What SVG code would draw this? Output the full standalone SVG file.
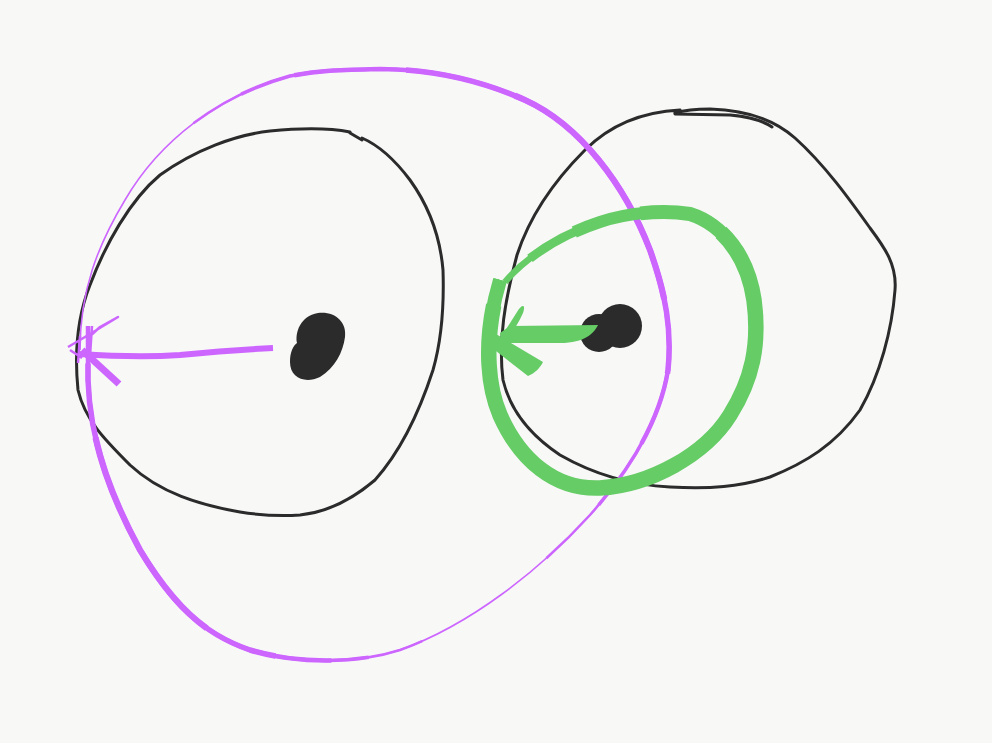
<svg xmlns="http://www.w3.org/2000/svg" width="992" height="743" viewBox="0 0 992 743">
<style>
.ink{fill:none;stroke:#2b2b2b;stroke-width:3;stroke-linecap:round;stroke-linejoin:round}
.pu{fill:none;stroke:#cc66ff;stroke-linecap:butt;stroke-linejoin:round}
.gr{fill:none;stroke:#66cc66;stroke-linecap:butt;stroke-linejoin:round}
.blob{fill:#2b2b2b}
.gf{fill:#66cc66}
</style>
<defs>
<path id="pl" pathLength="100" d="M80,350 C80,290 98,245 125,200 C160,140 220,95 290,76 C320,70 340,70 380,69 C430,69 480,80 525,100 C580,125 625,185 650,250 C666,295 672,330 668,370 C660,420 630,470 590,515 C540,570 470,625 400,650 C360,663 300,665 250,650 C200,633 170,600 140,550 C110,495 90,440 88,380 L88,326"/>
<path id="gl" pathLength="100" d="M505,282 C525,258 560,235 600,222 C630,212 665,210 690,214 C725,225 748,260 754,300 C760,345 752,380 730,415 C705,455 650,485 600,488 C555,490 520,460 500,415 C485,380 485,330 500,280"/>
</defs>
<rect width="992" height="743" fill="#f8f8f7"/>
<g id="circle-left">
<path class="ink" d="M350,132 C330,128 300,128 270,131 C235,135 195,150 160,175 C130,200 105,245 90,285 C78,315 74,350 78,390 C85,420 105,440 130,465 C160,493 200,505 240,512 C265,516 285,516 300,515 C330,512 355,497 375,480 C400,452 420,410 433,370 C443,335 444,300 443,270 C440,235 428,205 410,180 C395,160 378,145 362,138"/>
<path class="ink" d="M350,133 L362,140"/>
</g>
<g id="circle-right">
<path class="ink" d="M680,110 C640,112 610,125 585,150 C555,180 530,215 517,255 C505,300 498,340 503,380 C510,410 530,435 560,455 C595,475 630,485 670,487 C710,489 740,487 770,477 C805,463 835,445 860,410 C880,375 892,330 895,290 C897,265 885,248 870,228 C850,200 825,165 795,138 C775,120 745,110 710,109 C695,109 685,110 675,113"/>
<path class="ink" d="M675,114 L730,115 C750,117 762,120 772,127"/>
</g>
<g id="dot-left">
<path class="blob" d="M318,313 C335,311 347,322 345,337 C343,352 335,368 320,377 C305,384 290,378 290,362 C290,352 293,346 297,343 C295,333 300,316 318,313 Z"/>
</g>
<g id="dot-right">
<circle class="blob" cx="599" cy="333" r="19"/>
<circle class="blob" cx="620" cy="326" r="22"/>
</g>
<g id="connectors">
<g id="purple-loop">
<use href="#pl" class="pu" stroke-width="1.6" stroke-linecap="round"/>
<use href="#pl" class="pu" stroke-width="2.5" stroke-dasharray="0 14 48 8 30 1000"/>
<use href="#pl" class="pu" stroke-width="3.5" stroke-dasharray="0 17 41 15 27 1000"/>
<use href="#pl" class="pu" stroke-width="4.5" stroke-dasharray="0 20 34 21 25 1000"/>
<use href="#pl" class="pu" stroke-width="5.5" stroke-dasharray="0 26 24 28 20 1000"/>
<use href="#pl" class="pu" stroke-width="6.2" stroke-dasharray="0 32 14 36 12 1000"/>
</g>
<g id="purple-arrow">
<path class="pu" stroke-width="6" d="M273,348 C230,350 210,352 180,355 C150,357 110,356 80,354"/>
<path class="pu" stroke-width="7" d="M82,350 L119,384"/>
<path class="pu" stroke-width="2.5" stroke-linecap="round" d="M68,347 L80,340 L118,317 L100,327 L88,338 M80,336 L78,363 M92,326 L90,356 M70,350 L82,358"/>
</g>
<g id="green-loop">
<use href="#gl" class="gr" stroke-width="6.5"/>
<use href="#gl" class="gr" stroke-width="9" stroke-dasharray="0 4 96 1000"/>
<use href="#gl" class="gr" stroke-width="12" stroke-dasharray="0 10 90 1000"/>
<use href="#gl" class="gr" stroke-width="14" stroke-dasharray="0 18 82 1000"/>
<use href="#gl" class="gr" stroke-width="15.5" stroke-dasharray="0 28 69 1000"/>
</g>
<g id="green-arrow">
<path class="gf" d="M598,325 L510,326 L500,333 L502,343 L560,343 C585,343 594,333 598,325 Z"/>
<path class="gf" d="M498,342 L517,312 C522,304 526,304 523,313 C518,325 510,335 505,343 Z"/>
<path class="gf" d="M496,334 L543,362 C540,368 535,373 528,376 L496,351 Z"/>
</g>
</g>
</svg>
